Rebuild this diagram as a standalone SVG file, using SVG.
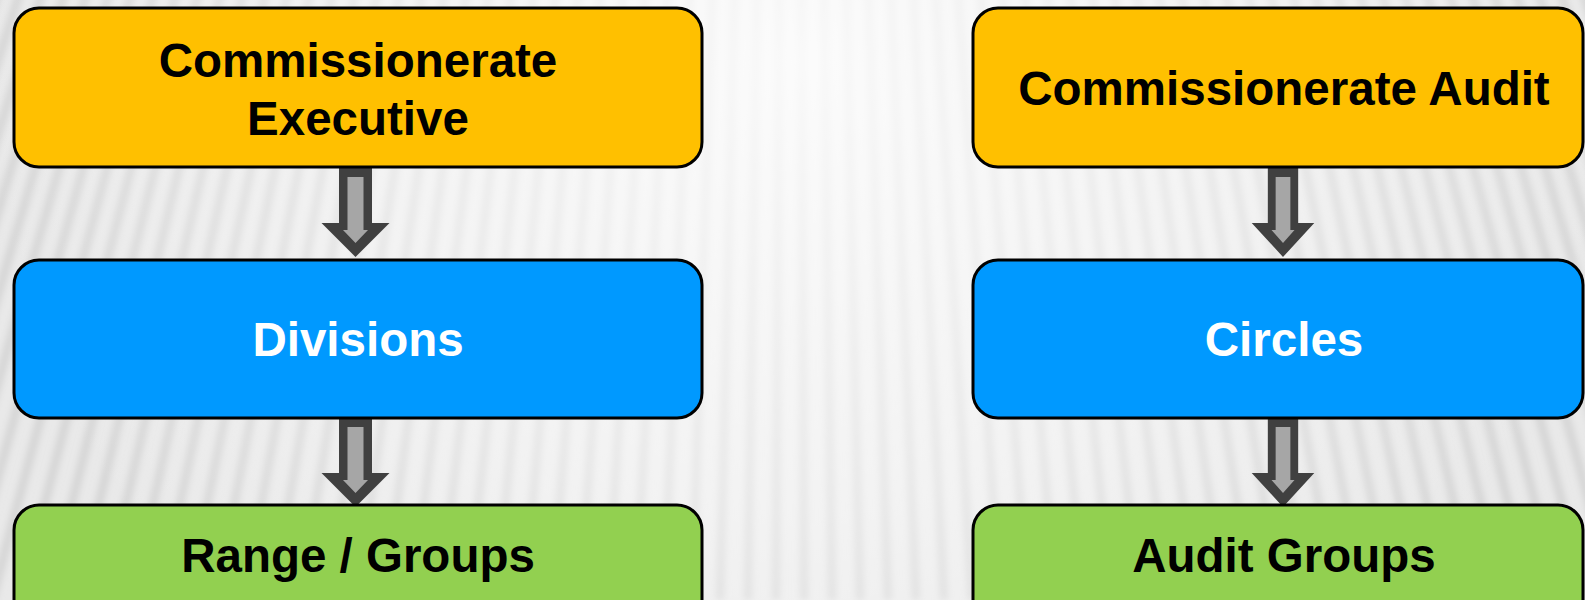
<svg xmlns="http://www.w3.org/2000/svg" width="1585" height="600" viewBox="0 0 1585 600">
  <defs>
    <style>
      .box { stroke: #000; stroke-width: 3; }
      .exec { fill: #FFC000; }
      .mid { fill: #0099FF; }
      .low { fill: #92D050; }
      .lbl { font-family: "Liberation Sans", Arial, sans-serif; font-weight: bold; font-size: 47.5px; text-anchor: middle; }
      .dark { fill: #000; }
      .light { fill: #fff; }
      .arrow-out { fill: #404040; }
      .arrow-in { fill: #A6A6A6; }
    </style>
    <filter id="soft" x="-10%" y="-10%" width="120%" height="120%">
      <feGaussianBlur stdDeviation="3"/>
    </filter>
    <radialGradient id="glow" cx="800" cy="60" r="820" gradientUnits="userSpaceOnUse">
      <stop offset="0" stop-color="#ffffff" stop-opacity="0.85"/>
      <stop offset="0.55" stop-color="#ffffff" stop-opacity="0.45"/>
      <stop offset="1" stop-color="#ffffff" stop-opacity="0"/>
    </radialGradient>
    <!-- block arrow pointing down, origin at top centre -->
    <g id="downArrow">
      <polygon class="arrow-out" points="-16.5,0 16.5,0 16.5,55 34,55 0,89 -34,55 -16.5,55"/>
      <polygon class="arrow-in" points="-8,9 8,9 8,62 12.5,62 0,75 -12.5,62 -8,62"/>
    </g>
  </defs>

  <!-- striped backdrop -->
  <g id="background">
    <rect width="1585" height="600" fill="#e9e9e9"/>
    <path filter="url(#soft)" stroke="#d6d6d6" stroke-width="9" fill="none"
      d="M792 -2400L-316 600M792 -2400L-288 600M792 -2400L-260 600M792 -2400L-232 600M792 -2400L-204 600M792 -2400L-176 600M792 -2400L-148 600M792 -2400L-120 600M792 -2400L-92 600M792 -2400L-64 600M792 -2400L-36 600M792 -2400L-8 600M792 -2400L20 600M792 -2400L48 600M792 -2400L76 600M792 -2400L104 600M792 -2400L132 600M792 -2400L160 600M792 -2400L188 600M792 -2400L216 600M792 -2400L244 600M792 -2400L272 600M792 -2400L300 600M792 -2400L328 600M792 -2400L356 600M792 -2400L384 600M792 -2400L412 600M792 -2400L440 600M792 -2400L468 600M792 -2400L496 600M792 -2400L524 600M792 -2400L552 600M792 -2400L580 600M792 -2400L608 600M792 -2400L636 600M792 -2400L664 600M792 -2400L692 600M792 -2400L720 600M792 -2400L748 600M792 -2400L776 600M792 -2400L804 600M792 -2400L832 600M792 -2400L860 600M792 -2400L888 600M792 -2400L916 600M792 -2400L944 600M792 -2400L972 600M792 -2400L1000 600M792 -2400L1028 600M792 -2400L1056 600M792 -2400L1084 600M792 -2400L1112 600M792 -2400L1140 600M792 -2400L1168 600M792 -2400L1196 600M792 -2400L1224 600M792 -2400L1252 600M792 -2400L1280 600M792 -2400L1308 600M792 -2400L1336 600M792 -2400L1364 600M792 -2400L1392 600M792 -2400L1420 600M792 -2400L1448 600M792 -2400L1476 600M792 -2400L1504 600M792 -2400L1532 600M792 -2400L1560 600M792 -2400L1588 600M792 -2400L1616 600M792 -2400L1644 600M792 -2400L1672 600M792 -2400L1700 600M792 -2400L1728 600M792 -2400L1756 600M792 -2400L1784 600M792 -2400L1812 600M792 -2400L1840 600M792 -2400L1868 600M792 -2400L1896 600"/>
    <rect width="1585" height="600" fill="url(#glow)"/>
  </g>

  <!-- connectors -->
  <g id="connectors">
    <use href="#downArrow" transform="translate(355.5,168)"/>
    <use href="#downArrow" transform="translate(355.5,418)"/>
    <use href="#downArrow" transform="translate(1283,168) scale(0.92,1)"/>
    <use href="#downArrow" transform="translate(1283,418) scale(0.92,1)"/>
  </g>

  <!-- executive side -->
  <g id="node-commissionerate-executive">
    <rect class="box exec" x="14" y="8" width="688" height="159" rx="25"/>
    <text class="lbl dark" x="358" y="77">Commissionerate</text>
    <text class="lbl dark" x="358" y="135">Executive</text>
  </g>
  <g id="node-divisions">
    <rect class="box mid" x="14" y="260" width="688" height="158" rx="25"/>
    <text class="lbl light" x="358" y="356">Divisions</text>
  </g>
  <g id="node-range-groups">
    <rect class="box low" x="14" y="505" width="688" height="158" rx="25"/>
    <text class="lbl dark" x="358" y="572">Range / Groups</text>
  </g>

  <!-- audit side -->
  <g id="node-commissionerate-audit">
    <rect class="box exec" x="973" y="8" width="610" height="159" rx="25"/>
    <text class="lbl dark" x="1284" y="105">Commissionerate Audit</text>
  </g>
  <g id="node-circles">
    <rect class="box mid" x="973" y="260" width="610" height="158" rx="25"/>
    <text class="lbl light" x="1284" y="356">Circles</text>
  </g>
  <g id="node-audit-groups">
    <rect class="box low" x="973" y="505" width="610" height="158" rx="25"/>
    <text class="lbl dark" x="1284" y="572">Audit Groups</text>
  </g>
</svg>
